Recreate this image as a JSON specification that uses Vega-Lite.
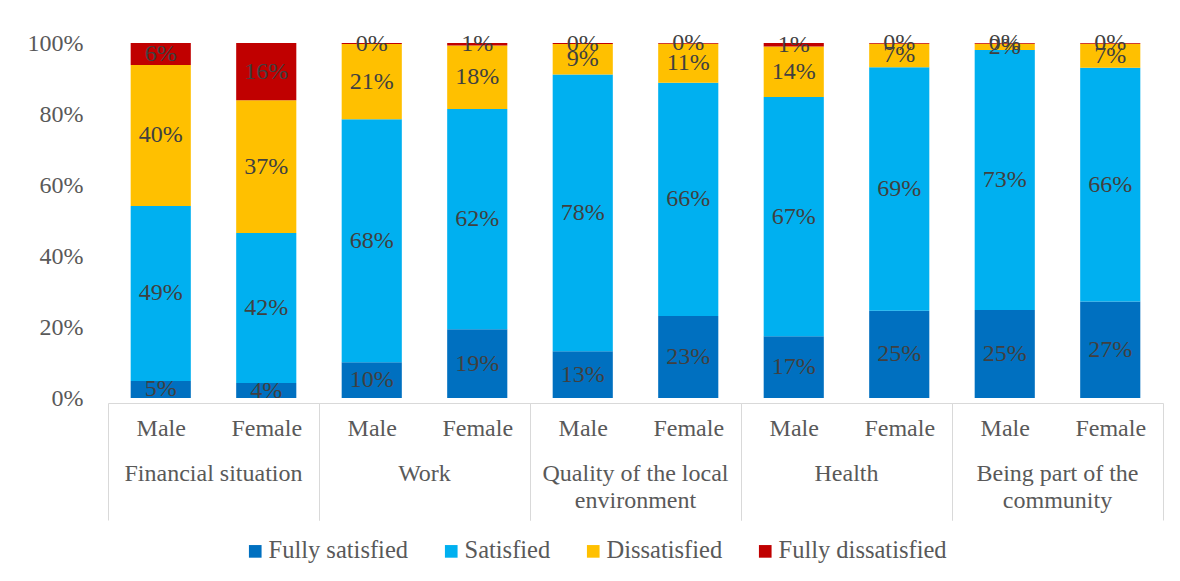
{
  "$schema": "https://vega.github.io/schema/vega-lite/v6.json",
  "background": "white",
  "padding": {"left": 27, "top": 31, "right": 5, "bottom": 5},
  "config": {
    "font": "Liberation Serif",
    "view": {"stroke": null},
    "axis": {"labelFont": "Liberation Serif", "labelFontSize": 24, "labelColor": "#595959", "grid": false, "title": null},
    "legend": {"layout": {"bottom": {"anchor": "middle"}}}
  },
  "data": {"values": [
    {"category": "Financial situation", "gender": "Male", "level": "Fully satisfied", "ord": 1, "value": 0.048},
    {"category": "Financial situation", "gender": "Male", "level": "Satisfied", "ord": 2, "value": 0.493},
    {"category": "Financial situation", "gender": "Male", "level": "Dissatisfied", "ord": 3, "value": 0.397},
    {"category": "Financial situation", "gender": "Male", "level": "Fully dissatisfied", "ord": 4, "value": 0.062},
    {"category": "Financial situation", "gender": "Female", "level": "Fully satisfied", "ord": 1, "value": 0.042},
    {"category": "Financial situation", "gender": "Female", "level": "Satisfied", "ord": 2, "value": 0.423},
    {"category": "Financial situation", "gender": "Female", "level": "Dissatisfied", "ord": 3, "value": 0.374},
    {"category": "Financial situation", "gender": "Female", "level": "Fully dissatisfied", "ord": 4, "value": 0.161},
    {"category": "Work", "gender": "Male", "level": "Fully satisfied", "ord": 1, "value": 0.101},
    {"category": "Work", "gender": "Male", "level": "Satisfied", "ord": 2, "value": 0.684},
    {"category": "Work", "gender": "Male", "level": "Dissatisfied", "ord": 3, "value": 0.212},
    {"category": "Work", "gender": "Male", "level": "Fully dissatisfied", "ord": 4, "value": 0.003},
    {"category": "Work", "gender": "Female", "level": "Fully satisfied", "ord": 1, "value": 0.194},
    {"category": "Work", "gender": "Female", "level": "Satisfied", "ord": 2, "value": 0.620},
    {"category": "Work", "gender": "Female", "level": "Dissatisfied", "ord": 3, "value": 0.179},
    {"category": "Work", "gender": "Female", "level": "Fully dissatisfied", "ord": 4, "value": 0.007},
    {"category": "Quality of the local environment", "gender": "Male", "level": "Fully satisfied", "ord": 1, "value": 0.132},
    {"category": "Quality of the local environment", "gender": "Male", "level": "Satisfied", "ord": 2, "value": 0.779},
    {"category": "Quality of the local environment", "gender": "Male", "level": "Dissatisfied", "ord": 3, "value": 0.086},
    {"category": "Quality of the local environment", "gender": "Male", "level": "Fully dissatisfied", "ord": 4, "value": 0.003},
    {"category": "Quality of the local environment", "gender": "Female", "level": "Fully satisfied", "ord": 1, "value": 0.231},
    {"category": "Quality of the local environment", "gender": "Female", "level": "Satisfied", "ord": 2, "value": 0.657},
    {"category": "Quality of the local environment", "gender": "Female", "level": "Dissatisfied", "ord": 3, "value": 0.110},
    {"category": "Quality of the local environment", "gender": "Female", "level": "Fully dissatisfied", "ord": 4, "value": 0.002},
    {"category": "Health", "gender": "Male", "level": "Fully satisfied", "ord": 1, "value": 0.174},
    {"category": "Health", "gender": "Male", "level": "Satisfied", "ord": 2, "value": 0.674},
    {"category": "Health", "gender": "Male", "level": "Dissatisfied", "ord": 3, "value": 0.142},
    {"category": "Health", "gender": "Male", "level": "Fully dissatisfied", "ord": 4, "value": 0.010},
    {"category": "Health", "gender": "Female", "level": "Fully satisfied", "ord": 1, "value": 0.246},
    {"category": "Health", "gender": "Female", "level": "Satisfied", "ord": 2, "value": 0.686},
    {"category": "Health", "gender": "Female", "level": "Dissatisfied", "ord": 3, "value": 0.066},
    {"category": "Health", "gender": "Female", "level": "Fully dissatisfied", "ord": 4, "value": 0.002},
    {"category": "Being part of the community", "gender": "Male", "level": "Fully satisfied", "ord": 1, "value": 0.248},
    {"category": "Being part of the community", "gender": "Male", "level": "Satisfied", "ord": 2, "value": 0.732},
    {"category": "Being part of the community", "gender": "Male", "level": "Dissatisfied", "ord": 3, "value": 0.018},
    {"category": "Being part of the community", "gender": "Male", "level": "Fully dissatisfied", "ord": 4, "value": 0.002},
    {"category": "Being part of the community", "gender": "Female", "level": "Fully satisfied", "ord": 1, "value": 0.272},
    {"category": "Being part of the community", "gender": "Female", "level": "Satisfied", "ord": 2, "value": 0.658},
    {"category": "Being part of the community", "gender": "Female", "level": "Dissatisfied", "ord": 3, "value": 0.068},
    {"category": "Being part of the community", "gender": "Female", "level": "Fully dissatisfied", "ord": 4, "value": 0.002}
  ]},
  "facet": {
    "column": {
      "field": "category",
      "type": "nominal",
      "sort": ["Financial situation", "Work", "Quality of the local environment", "Health", "Being part of the community"],
      "header": {
        "title": null,
        "labelOrient": "bottom",
        "labelFont": "Liberation Serif",
        "labelFontSize": 24,
        "labelColor": "#595959",
        "labelPadding": -59,
        "labelLineHeight": 27,
        "labelExpr": "datum.value == 'Quality of the local environment' ? ['Quality of the local', 'environment'] : datum.value == 'Being part of the community' ? ['Being part of the', 'community'] : datum.value"
      }
    }
  },
  "spacing": 0,
  "spec": {
    "width": 211,
    "height": 355,
    "encoding": {
      "x": {
        "field": "gender",
        "type": "nominal",
        "sort": ["Male", "Female"],
        "scale": {"paddingInner": 0, "paddingOuter": 0},
        "axis": {
          "title": null,
          "labelAngle": 0,
          "domainColor": "#d9d9d9",
          "tickColor": {"condition": {"test": "datum.value === 'Male'", "value": "transparent"}, "value": "#d9d9d9"},
          "tickBand": "extent",
          "tickSize": 117,
          "labelPadding": -104
        }
      },
      "y": {
        "field": "value",
        "type": "quantitative",
        "stack": "normalize",
        "scale": {"domain": [0, 1]},
        "axis": {"title": null, "format": ".0%", "tickCount": 5, "domain": false, "ticks": false, "tickSize": 0, "labelPadding": 25}
      },
      "order": {"field": "ord", "type": "quantitative"}
    },
    "layer": [
      {
        "mark": {"type": "bar", "width": {"band": 0.57}},
        "encoding": {
          "color": {
            "field": "level",
            "type": "nominal",
            "scale": {
              "domain": ["Fully satisfied", "Satisfied", "Dissatisfied", "Fully dissatisfied"],
              "range": ["#0070C0", "#00B0F0", "#FFC000", "#C00000"]
            },
            "legend": {
              "title": null,
              "orient": "bottom",
              "direction": "horizontal",
              "symbolType": "square",
              "symbolSize": 160,
              "symbolStrokeWidth": 0,
              "labelFont": "Liberation Serif",
              "labelFontSize": 24.5,
              "labelColor": "#595959",
              "labelLimit": 400,
              "labelOffset": 1,
              "columnPadding": 30,
              "offset": 18
            }
          }
        }
      },
      {
        "mark": {"type": "text", "fontSize": 24, "color": "#404040", "baseline": "middle", "align": "center"},
        "encoding": {
          "y": {"field": "value", "type": "quantitative", "stack": "normalize", "bandPosition": 0.5},
          "detail": {"field": "level"},
          "text": {"field": "value", "format": ".0%"}
        }
      }
    ]
  }
}
